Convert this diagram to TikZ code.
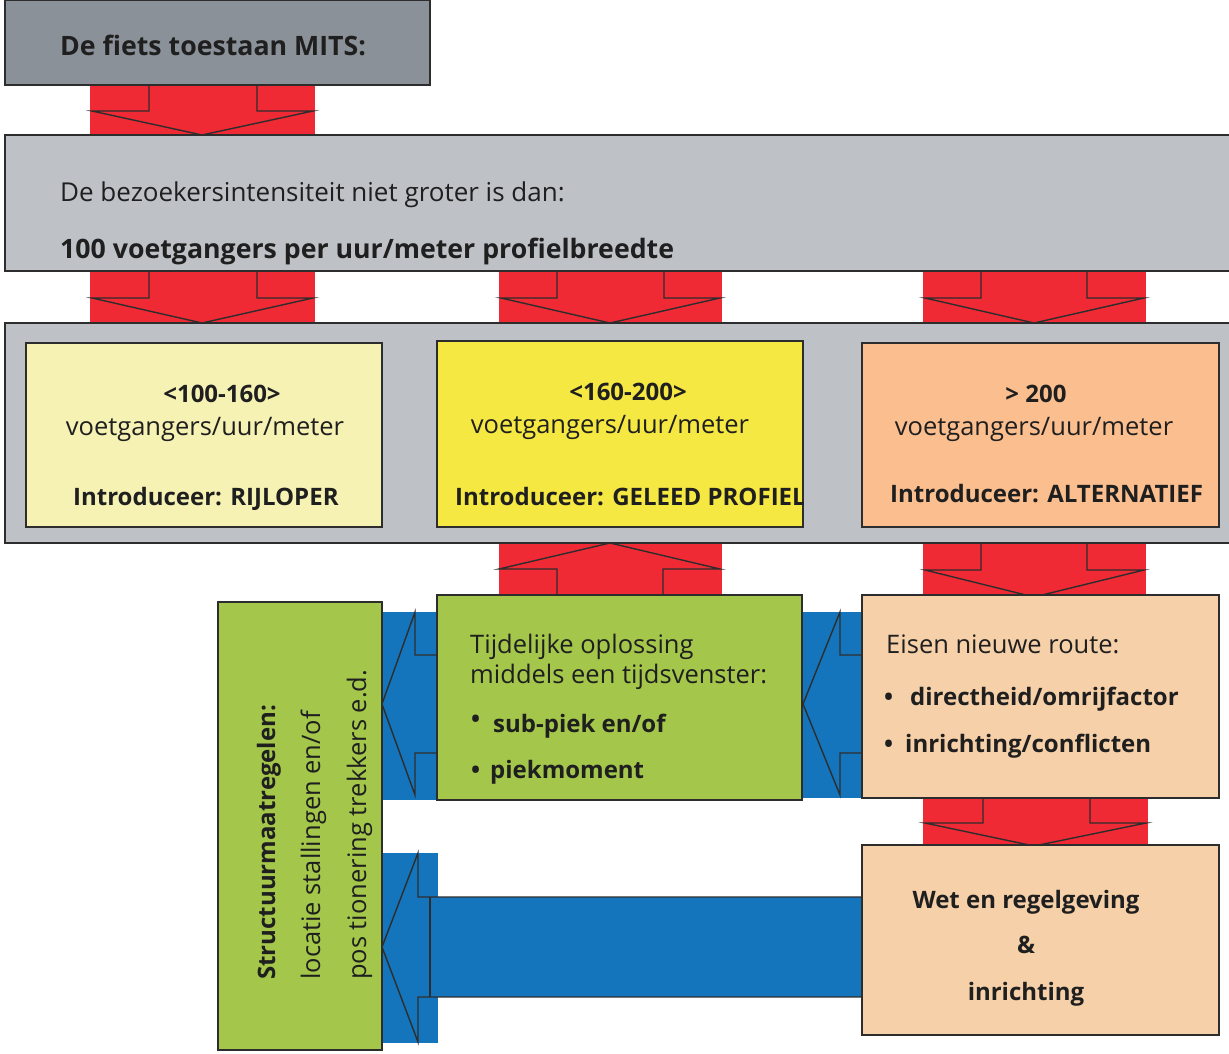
\documentclass[tikz,border=0pt]{standalone}
\usepackage{fontspec}
\setmainfont{Open Sans}
\definecolor{dgray}{RGB}{139,145,152}
\definecolor{lgray}{RGB}{190,194,198}
\definecolor{redc}{RGB}{240,42,52}
\definecolor{paleyel}{RGB}{246,242,180}
\definecolor{yel}{RGB}{246,232,66}
\definecolor{salmon}{RGB}{251,190,142}
\definecolor{peach}{RGB}{246,208,168}
\definecolor{grn}{RGB}{163,198,75}
\definecolor{bluec}{RGB}{20,117,188}
\definecolor{edgec}{RGB}{45,45,45}
\begin{document}
\begin{tikzpicture}[x=1pt,y=-1pt,
  box/.style={draw=edgec, line width=1.5pt, inner sep=0pt, outer sep=0pt, anchor=north west},
  outl/.style={draw=edgec, line width=1.4pt, line join=miter},
  tx/.style={font=\fontsize{25.5}{30}\selectfont, inner sep=0pt, text=black!88},
  tb/.style={font=\fontsize{24}{29}\selectfont\bfseries, inner sep=0pt, text=black!88},
  tbig/.style={font=\fontsize{26.7}{31}\selectfont\bfseries, inner sep=0pt, text=black!88},
  txbig/.style={font=\fontsize{26}{31}\selectfont, inner sep=0pt, text=black!88}]
\useasboundingbox (0,0) rectangle (1229,1053);
\fill[white] (0,0) rectangle (1229,1053);
% ---------- block arrow fills ----------
\fill[redc] (90,85) rectangle (315,135);
\fill[redc] (90,271) rectangle (315,323);
\fill[redc] (499,271) rectangle (722,323);
\fill[redc] (923,271) rectangle (1146,323);
\fill[redc] (499,543) rectangle (722,597);
\fill[redc] (923,543) rectangle (1146,597);
\fill[redc] (923,798) rectangle (1148,846);
\fill[bluec] (803,612) rectangle (862,798);
\fill[bluec] (382,612) rectangle (437,800);
\fill[bluec] (382,853) rectangle (438,1043);
\fill[bluec] (430,897) rectangle (862,997);
% ---------- block arrow outlines ----------
\draw[outl] (149,85) -- (149,111) -- (92,111) -- (202,135) -- (313,111) -- (257,111) -- (257,85);
\draw[outl] (149,271) -- (149,298) -- (92,298) -- (202,323) -- (313,298) -- (257,298) -- (257,271);
\draw[outl] (557,271) -- (557,298) -- (501,298) -- (610,323) -- (720,298) -- (664,298) -- (664,271);
\draw[outl] (981,271) -- (981,298) -- (925,298) -- (1034,323) -- (1144,298) -- (1087,298) -- (1087,271);
\draw[outl] (557,597) -- (557,569) -- (499,569) -- (610,543) -- (720,569) -- (663,569) -- (663,597);
\draw[outl] (981,543) -- (981,570) -- (925,570) -- (1034,597) -- (1144,570) -- (1087,570) -- (1087,543);
\draw[outl] (983,798) -- (983,823) -- (925,823) -- (1034,846) -- (1146,823) -- (1090,823) -- (1090,798);
\draw[outl] (862,655) -- (840,655) -- (840,612) -- (803,704) -- (840,795) -- (840,753) -- (862,753);
\draw[outl] (437,655) -- (415,655) -- (415,612) -- (382,704) -- (415,795) -- (415,753) -- (437,753);
\draw[outl] (862,897) -- (418,897) -- (418,853) -- (382,947) -- (418,1042) -- (418,997) -- (862,997);
\draw[outl] (430,897) -- (430,997);
% ---------- boxes ----------
\node[box, fill=dgray, minimum width=425pt, minimum height=85pt] (mits) at (5,0) {};
\node[box, fill=lgray, minimum width=1240pt, minimum height=136pt] (bez) at (5,135) {};
\node[box, fill=lgray, minimum width=1240pt, minimum height=220pt] (cont) at (5,323) {};
\node[box, fill=paleyel, minimum width=356pt, minimum height=184pt] (boxA) at (26,343) {};
\node[box, fill=yel, minimum width=366pt, minimum height=186pt] (boxB) at (437,341) {};
\node[box, fill=salmon, minimum width=357pt, minimum height=184pt] (boxC) at (862,343) {};
\node[box, fill=grn, minimum width=365pt, minimum height=205pt] (boxG) at (437,595) {};
\node[box, fill=peach, minimum width=357pt, minimum height=203pt] (boxE) at (862,595) {};
\node[box, fill=peach, minimum width=357pt, minimum height=190pt] (boxW) at (862,845) {};
\node[box, fill=grn, minimum width=164pt, minimum height=448pt] (boxS) at (218,602) {};
% ---------- texts ----------
\node[tbig, anchor=base west] (t1) at (60,55) {De fiets toestaan  MITS:};
\node[txbig, anchor=base west] (t2) at (60,201) {De bezoekersintensiteit niet groter is dan:};
\node[tbig, anchor=base west] (t3) at (60,258) {100 voetgangers  per uur/meter profielbreedte};
% box A
\node[tb, anchor=base] (a1) at (222,402) {<100-160>};
\node[tx, anchor=base] (a2) at (205,435) {voetgangers/uur/meter};
\node[tb, anchor=base west] (a3) at (73,505) {Introduceer: RIJLOPER};
% box B
\node[tb, anchor=base] (b1) at (628,400) {<160-200>};
\node[tx, anchor=base] (b2) at (610,433) {voetgangers/uur/meter};
\begin{scope}
\clip (437,341) rectangle (803,527);
\node[tb, anchor=base west] (b3) at (455,505) {Introduceer: GELEED PROFIEL};
\end{scope}
% box C
\node[tb, anchor=base] (c1) at (1036,402) {> 200};
\node[tx, anchor=base] (c2) at (1034,435) {voetgangers/uur/meter};
\node[tb, anchor=base west] (c3) at (890,502) {Introduceer: ALTERNATIEF};
% box G
\node[tx, anchor=base west] (g1) at (470,653) {Tijdelijke oplossing};
\node[tx, anchor=base west] (g2) at (470,683) {middels een tijdsvenster:};
\node[tb, anchor=base west] (g3) at (471,727) {•};
\node[tb, anchor=base west] (g4) at (493,732) {sub-piek en/of};
\node[tb, anchor=base west] (g5) at (471,778) {•};
\node[tb, anchor=base west] (g6) at (490,778) {piekmoment};
% box E
\node[tx, anchor=base west] (e1) at (886,653) {Eisen nieuwe route:};
\node[tb, anchor=base west] (e2) at (884,705) {•};
\node[tb, anchor=base west] (e3) at (910,705) {directheid/omrijfactor};
\node[tb, anchor=base west] (e4) at (884,752) {•};
\node[tb, anchor=base west] (e5) at (905,752) {inrichting/conflicten};
% box W
\node[tb, anchor=base] (w1) at (1026,908) {Wet en regelgeving};
\node[tb, anchor=base] (w2) at (1026,953) {\&};
\node[tb, anchor=base] (w3) at (1026,1000) {inrichting};
% box S (rotated)
\node[tb, rotate=90, anchor=base west] (s1) at (275,980) {Structuurmaatregelen:};
\node[tx, rotate=90, anchor=base west] (s2) at (320,980) {locatie stallingen en/of};
\node[tx, rotate=90, anchor=base west] (s3) at (366,980) {pos tionering trekkers e.d.};
\end{tikzpicture}
\end{document}
